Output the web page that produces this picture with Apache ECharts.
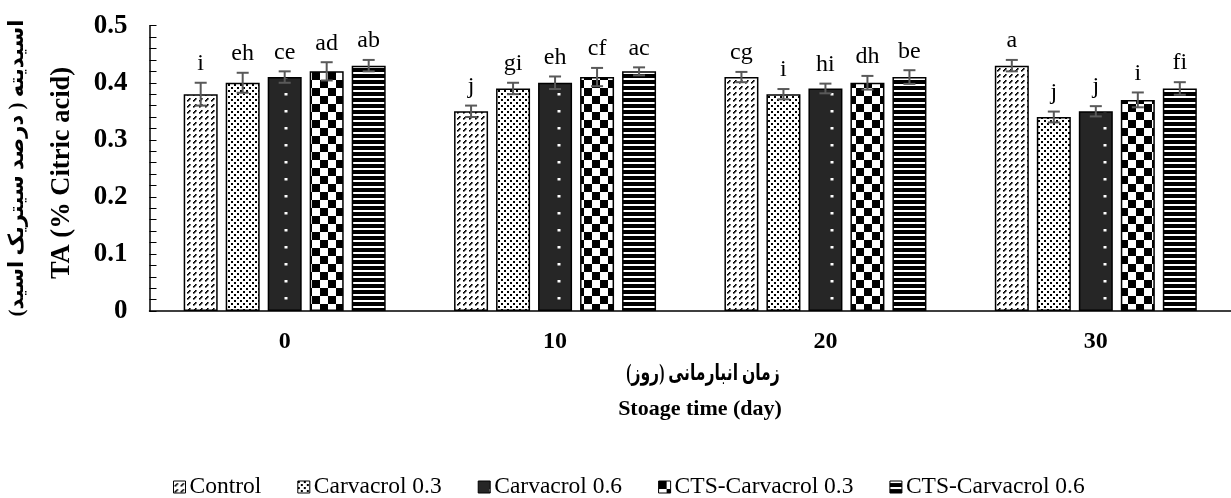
<!DOCTYPE html>
<html>
<head>
<meta charset="utf-8">
<script src="https://cdn.jsdelivr.net/npm/echarts@6/dist/echarts.min.js"></script>
<style>
  html, body { margin: 0; padding: 0; background: #fff; }
  #chart { width: 1231px; height: 498px; }
</style>
</head>
<body>
<div id="chart"></div>
<script>
// Storage days (x categories)
const days = ['0', '10', '20', '30'];
const seriesNames = ['Control', 'Carvacrol 0.3', 'Carvacrol 0.6', 'CTS-Carvacrol 0.3', 'CTS-Carvacrol 0.6'];

// Titratable acidity (% citric acid) per treatment
const control = [0.38, 0.35, 0.41, 0.43];
const carvacrol03 = [0.40, 0.39, 0.38, 0.34];
const carvacrol06 = [0.41, 0.40, 0.39, 0.35];
const ctsCarvacrol03 = [0.42, 0.41, 0.40, 0.37];
const ctsCarvacrol06 = [0.43, 0.42, 0.41, 0.39];

// Standard errors
const controlErr = [0.020, 0.010, 0.009, 0.010];
const carvacrol03Err = [0.0175, 0.010, 0.009, 0.0095];
const carvacrol06Err = [0.010, 0.011, 0.0085, 0.009];
const ctsCarvacrol03Err = [0.016, 0.016, 0.012, 0.013];
const ctsCarvacrol06Err = [0.010, 0.007, 0.012, 0.011];

// Duncan grouping letters
const controlLetters = ['i', 'j', 'cg', 'a'];
const carvacrol03Letters = ['eh', 'gi', 'i', 'j'];
const carvacrol06Letters = ['ce', 'eh', 'hi', 'j'];
const ctsCarvacrol03Letters = ['ad', 'cf', 'dh', 'i'];
const ctsCarvacrol06Letters = ['ab', 'ac', 'be', 'fi'];

const yTicks = [0, 0.1, 0.2, 0.3, 0.4, 0.5];

const values = [control, carvacrol03, carvacrol06, ctsCarvacrol03, ctsCarvacrol06];
const errors = [controlErr, carvacrol03Err, carvacrol06Err, ctsCarvacrol03Err, ctsCarvacrol06Err];
const letters = [controlLetters, carvacrol03Letters, carvacrol06Letters, ctsCarvacrol03Letters, ctsCarvacrol06Letters];

const BAR_W = 34;
const BAR_GAP = 8;
const SERIF = '"Liberation Serif", "Times New Roman", "DejaVu Sans", serif';

// ---- hatch / fill patterns ----
function tile(w, h, draw) {
  const c = document.createElement('canvas');
  c.width = w; c.height = h;
  const g = c.getContext('2d');
  draw(g);
  return c;
}
const patDiagonal = tile(6, 6, g => {
  g.fillStyle = '#fff'; g.fillRect(0, 0, 6, 6);
  g.fillStyle = '#000';
  g.fillRect(1, 4, 1.6, 1.6);
  g.fillRect(2, 3, 1.6, 1.6);
  g.fillRect(3, 2, 1.6, 1.6);
});
const patDots = tile(6, 6, g => {
  g.fillStyle = '#fff'; g.fillRect(0, 0, 6, 6);
  g.fillStyle = '#000';
  g.fillRect(0, 0, 2, 2);
  g.fillRect(3, 3, 2, 2);
});
const patDarkDots = tile(273, 17, g => {
  g.fillStyle = '#262626'; g.fillRect(0, 0, 273, 17);
  g.fillStyle = '#fff';
  g.fillRect(11.5, 8, 3, 2.5);
});
const patChecker = tile(16, 16, g => {
  g.fillStyle = '#fff'; g.fillRect(0, 0, 16, 16);
  g.fillStyle = '#000';
  g.fillRect(0, 0, 8, 8);
  g.fillRect(8, 8, 8, 8);
});
const patStripes = tile(6, 6, g => {
  g.fillStyle = '#000'; g.fillRect(0, 0, 6, 6);
  g.fillStyle = '#fff';
  g.fillRect(0, 0, 6, 2);
});
const fills = [patDiagonal, patDots, patDarkDots, patChecker, patStripes];

const barSeries = seriesNames.map((name, i) => ({
  name: name,
  type: 'bar',
  barWidth: BAR_W,
  barGap: (BAR_GAP / BAR_W * 100) + '%',
  data: values[i],
  itemStyle: {
    color: { image: fills[i], repeat: 'repeat' },
    borderColor: '#000',
    borderWidth: 1.5
  },
  emphasis: { disabled: true }
}));

// error bars + letters, one item per bar
const errData = [];
values.forEach((vals, s) => {
  vals.forEach((v, c) => {
    errData.push([c, s, v, errors[s][c], letters[s][c]]);
  });
});

const errorSeries = {
  type: 'custom',
  data: errData,
  encode: { x: 0, y: 2 },
  z: 10,
  silent: true,
  renderItem: function (params, api) {
    const c = api.value(0);
    const s = api.value(1);
    const v = api.value(2);
    const e = api.value(3);
    const label = errData[params.dataIndex][4];
    const x = api.coord([c, 0])[0] + (s - 2) * (BAR_W + BAR_GAP);
    const yTop = api.coord([c, v + e])[1];
    const yBot = api.coord([c, v - e])[1];
    const cap = 6;
    const st = { stroke: '#595959', lineWidth: 2 };
    return {
      type: 'group',
      children: [
        { type: 'line', shape: { x1: x, y1: yTop, x2: x, y2: yBot }, style: st },
        { type: 'line', shape: { x1: x - cap, y1: yTop, x2: x + cap, y2: yTop }, style: st },
        { type: 'line', shape: { x1: x - cap, y1: yBot, x2: x + cap, y2: yBot }, style: st },
        {
          type: 'text',
          style: {
            text: label, x: x, y: yTop - 7,
            textAlign: 'center', textVerticalAlign: 'bottom',
            font: '24px ' + SERIF, fill: '#000'
          }
        }
      ]
    };
  }
};

const chart = echarts.init(document.getElementById('chart'), null, { renderer: 'canvas' });
chart.setOption({
  animation: false,
  backgroundColor: '#fff',
  grid: { left: 149.5, top: 25.7, width: 1092, height: 285.3 },
  xAxis: {
    type: 'category',
    data: days,
    axisTick: { show: false },
    axisLine: { lineStyle: { color: '#000', width: 1.5 } },
    axisLabel: { color: '#000', fontFamily: SERIF, fontWeight: 'bold', fontSize: 24, margin: 19 }
  },
  yAxis: {
    type: 'value',
    min: yTicks[0],
    max: yTicks[yTicks.length - 1],
    interval: 0.1,
    splitLine: { show: false },
    axisLine: { show: true, lineStyle: { color: '#000', width: 1.5 } },
    axisTick: { show: true, inside: true, length: 7, lineStyle: { color: '#000', width: 1 } },
    minorTick: { show: true, splitNumber: 5, length: 7, lineStyle: { color: '#000', width: 1 } },
    axisLabel: {
      color: '#000', fontFamily: SERIF, fontWeight: 'bold', fontSize: 27, margin: 22,
      formatter: v => (v === 0 ? '0' : v.toFixed(1))
    }
  },
  legend: {
    data: seriesNames,
    left: 168,
    top: 470,
    icon: 'rect',
    itemWidth: 12,
    itemHeight: 12,
    itemGap: 36,
    itemStyle: { borderColor: '#000', borderWidth: 1 },
    textStyle: { color: '#000', fontFamily: SERIF, fontSize: 23.5, padding: [0, 0, 0, -1] }
  },
  graphic: [
    {
      type: 'text', x: 18, y: 168, rotation: Math.PI / 2,
      style: {
        text: 'اسیدیته ( درصد سیتریک اسید)', textAlign: 'center', textVerticalAlign: 'middle',
        font: 'bold 21px ' + SERIF, fill: '#000'
      }
    },
    {
      type: 'text', x: 62, y: 173, rotation: Math.PI / 2,
      style: {
        text: 'TA (% Citric acid)', textAlign: 'center', textVerticalAlign: 'middle',
        font: 'bold 26.5px ' + SERIF, fill: '#000'
      }
    },
    {
      type: 'text', x: 703, y: 374, scaleX: 0.68,
      style: {
        text: 'زمان انبارمانی (روز)', textAlign: 'center', textVerticalAlign: 'middle',
        font: 'bold 23px ' + SERIF, fill: '#000'
      }
    },
    {
      type: 'text', x: 700, y: 409,
      style: {
        text: 'Stoage time (day)', textAlign: 'center', textVerticalAlign: 'middle',
        font: 'bold 22px ' + SERIF, fill: '#000'
      }
    }
  ],
  series: barSeries.concat([errorSeries])
});
</script>
</body>
</html>
